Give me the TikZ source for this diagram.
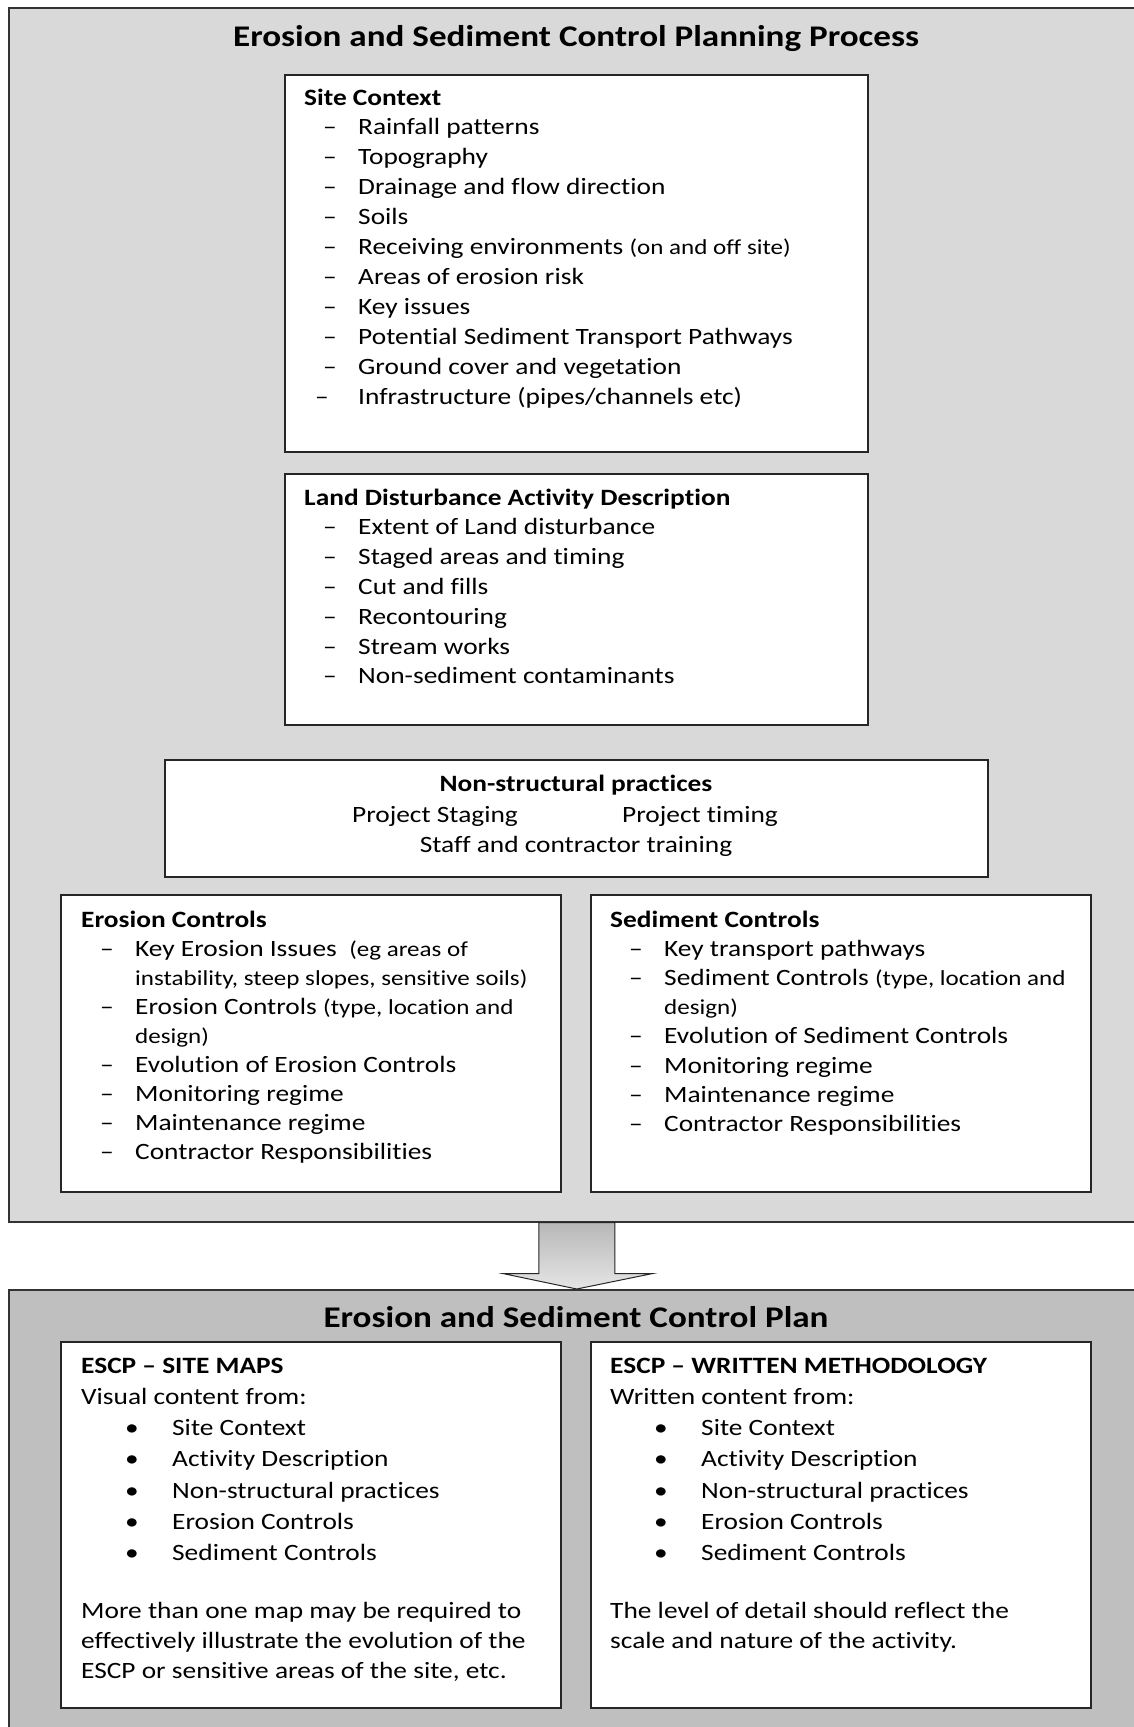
\documentclass[tikz,border=0pt]{standalone}
\usepackage{fontspec}
\setmainfont{Carlito}[FakeStretch=1.17, Ligatures={TeX,NoCommon}]
\usepackage{tikz}
\usetikzlibrary{positioning}
\definecolor{processgray}{HTML}{D9D9D9}
\definecolor{plangray}{HTML}{BFBFBF}
\newcommand\bodyfont[1]{\fontsize{23.4}{#1}\selectfont}
\newcommand\smallfont{\fontsize{21.4}{25}\selectfont}
\newcommand\titlefont{\fontsize{30}{36}\selectfont\bfseries}
\newcommand\dashitem[1][19pt]{\makebox[54pt][l]{\hspace*{#1}--}}
\newcommand\bulitem{\makebox[91pt][l]{\hspace*{44pt}\textbullet}}
\tikzset{
    %Define style for the two grey panels
    backpanel/.style={
           rectangle,
           draw=black!80, line width=1.5pt,
           inner sep=0pt,
           anchor=north west},
    %Define style for white boxes
    infobox/.style={
           rectangle,
           draw=black!85, line width=1.6pt,
           fill=white,
           inner sep=0pt, outer sep=0pt},
    %Define styles for text
    boxtext/.style={
           anchor=base west,
           inner sep=0pt},
    centertext/.style={
           anchor=base,
           inner sep=0pt,
           font=\bodyfont{29.9}},
    headtext/.style={
           anchor=base,
           inner sep=0pt,
           font=\titlefont},
    % Define block arrow style
    blockarrow/.style={
           draw=black!85, line width=1pt,
           top color=black!28,
           bottom color=black!10}
}

\begin{document}
\begin{tikzpicture}[x=1pt,y=-1pt]
\useasboundingbox (0,0) rectangle (1133,1727);
 %panels
\node[backpanel, fill=processgray, minimum width=1136pt, minimum height=1214pt] (process) at (8,7) {};
\node[backpanel, fill=plangray, minimum width=1136pt, minimum height=480pt] (plan) at (8,1289) {};

\shadedraw[blockarrow] ([xshift=-38pt]process.south)
    -- ([xshift=-38pt,yshift=-51pt]process.south)
    -- ([xshift=-74pt,yshift=-51pt]process.south)
    -- (plan.north)
    -- ([xshift=76pt,yshift=-51pt]process.south)
    -- ([xshift=38pt,yshift=-51pt]process.south)
    -- ([xshift=38pt]process.south) -- cycle;

 %boxes
\node[infobox, anchor=north west, minimum width=583pt, minimum height=377pt] (site) at (285,75) {};
\node[infobox, below=22pt of site, minimum width=583pt, minimum height=251pt] (land) {};
\node[infobox, below=35pt of land, minimum width=823pt, minimum height=117pt] (nonstruct) {};
\node[infobox, anchor=north west, minimum width=500pt, minimum height=297pt] (erosion) at (61,895) {};
\node[infobox, right=30pt of erosion, minimum width=500pt, minimum height=297pt] (sediment) {};
\node[infobox, anchor=north west, minimum width=500pt, minimum height=366pt] (maps) at (61,1342) {};
\node[infobox, right=30pt of maps, minimum width=500pt, minimum height=366pt] (method) {};

 %titles
\node[headtext] (processtitle) at (576,46) {Erosion and Sediment Control Planning Process};
\node[headtext] (plantitle) at (576,1327) {Erosion and Sediment Control Plan};

 %text
\node[boxtext] (sitetxt) at (304,105) {\parbox[t]{550pt}{\bodyfont{29.9}%
    \textbf{Site Context}\\
    \dashitem Rainfall patterns\\
    \dashitem Topography\\
    \dashitem Drainage and flow direction\\
    \dashitem Soils\\
    \dashitem Receiving environments {\smallfont(on and off site)}\\
    \dashitem Areas of erosion risk\\
    \dashitem Key issues\\
    \dashitem Potential Sediment Transport Pathways\\
    \dashitem Ground cover and vegetation\\
    \dashitem[11pt]Infrastructure (pipes/channels etc)}};

\node[boxtext] (landtxt) at (304,505) {\parbox[t]{550pt}{\bodyfont{29.8}%
    \textbf{Land Disturbance Activity Description}\\
    \dashitem Extent of Land disturbance\\
    \dashitem Staged areas and timing\\
    \dashitem Cut and fills\\
    \dashitem Recontouring\\
    \dashitem Stream works\\
    \dashitem Non-sediment contaminants}};

\node[centertext] (nsthead) at (576,791) {\textbf{Non-structural practices}};
\node[centertext] (nststaging) at (435,822) {Project Staging};
\node[centertext] (nsttiming) at (700,822) {Project timing};
\node[centertext] (nsttraining) at (576,852) {Staff and contractor training};

\node[boxtext] (erosiontxt) at (81,927) {\parbox[t]{470pt}{\bodyfont{29.0}%
    \textbf{Erosion Controls}\\
    \dashitem Key Erosion Issues\ \ {\smallfont(eg areas of}\\
    \hspace*{54pt}{\smallfont instability, steep slopes, sensitive soils)}\\
    \dashitem Erosion Controls {\smallfont(type, location and}\\
    \hspace*{54pt}{\smallfont design)}\\
    \dashitem Evolution of Erosion Controls\\
    \dashitem Monitoring regime\\
    \dashitem Maintenance regime\\
    \dashitem Contractor Responsibilities}};

\node[boxtext] (sedimenttxt) at (610,927) {\parbox[t]{470pt}{\bodyfont{29.2}%
    \textbf{Sediment Controls}\\
    \dashitem Key transport pathways\\
    \dashitem Sediment Controls {\smallfont(type, location and}\\
    \hspace*{54pt}{\smallfont design)}\\
    \dashitem Evolution of Sediment Controls\\
    \dashitem Monitoring regime\\
    \dashitem Maintenance regime\\
    \dashitem Contractor Responsibilities}};

\node[boxtext] (mapstxt) at (81,1373) {\parbox[t]{470pt}{\bodyfont{31.3}%
    \textbf{ESCP -- SITE MAPS}\\
    Visual content from:\\
    \bulitem Site Context\\
    \bulitem Activity Description\\
    \bulitem Non-structural practices\\
    \bulitem Erosion Controls\\
    \bulitem Sediment Controls}};
\node[boxtext] (mapsnote) at (81,1618) {\parbox[t]{470pt}{\bodyfont{30}%
    More than one map may be required to\\
    effectively illustrate the evolution of the\\
    ESCP or sensitive areas of the site, etc.}};

\node[boxtext] (methodtxt) at (610,1373) {\parbox[t]{470pt}{\bodyfont{31.3}%
    \textbf{ESCP -- WRITTEN METHODOLOGY}\\
    Written content from:\\
    \bulitem Site Context\\
    \bulitem Activity Description\\
    \bulitem Non-structural practices\\
    \bulitem Erosion Controls\\
    \bulitem Sediment Controls}};
\node[boxtext] (methodnote) at (610,1618) {\parbox[t]{470pt}{\bodyfont{30}%
    The level of detail should reflect the\\
    scale and nature of the activity.}};

\end{tikzpicture}
\end{document}
